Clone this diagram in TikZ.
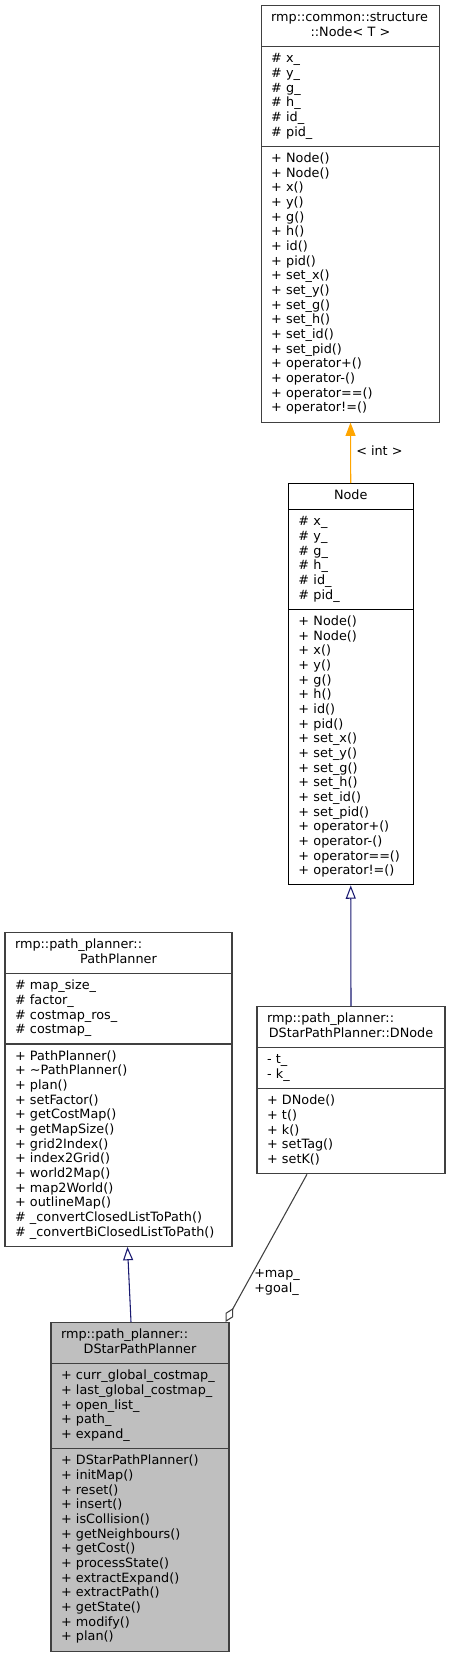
\documentclass[tikz,border=0pt]{standalone}
\usepackage{fontspec}
\setmainfont{DejaVu Sans}
\usetikzlibrary{arrows.meta,shapes.multipart,calc}
\definecolor{clsline}{HTML}{404040}
\definecolor{curfill}{HTML}{BFBFBF}
\definecolor{inherit}{HTML}{191970}
\definecolor{tmplline}{HTML}{FFA500}
\definecolor{useline}{HTML}{404040}
\newcommand{\dgfont}{\fontsize{9.6}{11}\selectfont}
\newcommand{\lft}[1]{\makebox[\linewidth][l]{#1}}
\newcommand{\ctr}[1]{\makebox[\linewidth][c]{#1}}

\begin{document}
\begin{tikzpicture}[x=0.75pt,y=-0.75pt,font=\dgfont,
  classbox/.style={rectangle split,rectangle split parts=3,draw=clsline,line width=.8pt,fill=white,
    align=left,inner xsep=7.5pt,inner ysep=4pt,anchor=north},
  lbl/.style={inner sep=0pt,font=\dgfont},
  tmplarrow/.style={draw=tmplline,line width=.8pt,-{Triangle[length=10pt,width=7.5pt,fill=tmplline]}},
  inheritarrow/.style={draw=inherit,line width=.8pt,-{Triangle[open,length=10pt,width=7.5pt]}},
  usearrow/.style={draw=useline,line width=.8pt,-{Diamond[open,length=12pt,width=6.5pt]}}]
\useasboundingbox (0,0) rectangle (450,1653);
% class boxes, positions in px of the doxygen graph
\node[classbox,text width=119pt] (tnode) at (350.5,5) {\lft{\strut rmp::common::structure}\\\ctr{::Node< T >\strut}
  \nodepart{two}\strut\# x\_\\\# y\_\\\# g\_\\\# h\_\\\# id\_\\\# pid\_\strut
  \nodepart{three}\strut+ Node()\\+ Node()\\+ x()\\+ y()\\+ g()\\+ h()\\+ id()\\+ pid()\\+ set\_x()\\+ set\_y()\\+ set\_g()\\+ set\_h()\\+ set\_id()\\+ set\_pid()\\+ operator+()\\+ operator-()\\+ operator==()\\+ operator!=()\strut};
\node[classbox,draw=black,line width=.7pt,text width=78.4pt] (inode) at (350.75,483) {\ctr{\strut Node\strut}
  \nodepart{two}\strut\# x\_\\\# y\_\\\# g\_\\\# h\_\\\# id\_\\\# pid\_\strut
  \nodepart{three}\strut+ Node()\\+ Node()\\+ x()\\+ y()\\+ g()\\+ h()\\+ id()\\+ pid()\\+ set\_x()\\+ set\_y()\\+ set\_g()\\+ set\_h()\\+ set\_id()\\+ set\_pid()\\+ operator+()\\+ operator-()\\+ operator==()\\+ operator!=()\strut};
\node[classbox,text width=155.25pt] (pp) at (118.5,932) {\lft{\strut rmp::path\_planner::}\\\ctr{PathPlanner\strut}
  \nodepart{two}\strut\# map\_size\_\\\# factor\_\\\# costmap\_ros\_\\\# costmap\_\strut
  \nodepart{three}\strut+ PathPlanner()\\+ \textasciitilde PathPlanner()\\+ plan()\\+ setFactor()\\+ getCostMap()\\+ getMapSize()\\+ grid2Index()\\+ index2Grid()\\+ world2Map()\\+ map2World()\\+ outlineMap()\\\# \_convertClosedListToPath()\\\# \_convertBiClosedListToPath()\strut};
\node[classbox,text width=126pt] (dn) at (351,1006) {\lft{\strut rmp::path\_planner::}\\\ctr{DStarPathPlanner::DNode\strut}
  \nodepart{two}\strut- t\_\\- k\_\strut
  \nodepart{three}\strut+ DNode()\\+ t()\\+ k()\\+ setTag()\\+ setK()\strut};
\node[classbox,fill=curfill,text width=118.5pt] (ds) at (140,1322) {\lft{\strut rmp::path\_planner::}\\\ctr{DStarPathPlanner\strut}
  \nodepart{two}\strut+ curr\_global\_costmap\_\\+ last\_global\_costmap\_\\+ open\_list\_\\+ path\_\\+ expand\_\strut
  \nodepart{three}\strut+ DStarPathPlanner()\\+ initMap()\\+ reset()\\+ insert()\\+ isCollision()\\+ getNeighbours()\\+ getCost()\\+ processState()\\+ extractExpand()\\+ extractPath()\\+ getState()\\+ modify()\\+ plan()\strut};
% relations
\draw[tmplarrow] (inode.north) -- (tnode.south);
\node[lbl,anchor=west] (tlab) at (356,451) {< int >};
\draw[inheritarrow] (dn.north) -- (inode.south);
\draw[inheritarrow] ($(ds.north)+(-9,0)$) -- ($(pp.south)+(9,0)$);
\draw[usearrow] ($(dn.south)+(-44,0)$) -- ($(ds.north east)+(-4,0)$);
\node[lbl,anchor=west,align=left] (ulab) at (254,1282) {\strut+map\_\\+goal\_\strut};
\end{tikzpicture}
\end{document}
